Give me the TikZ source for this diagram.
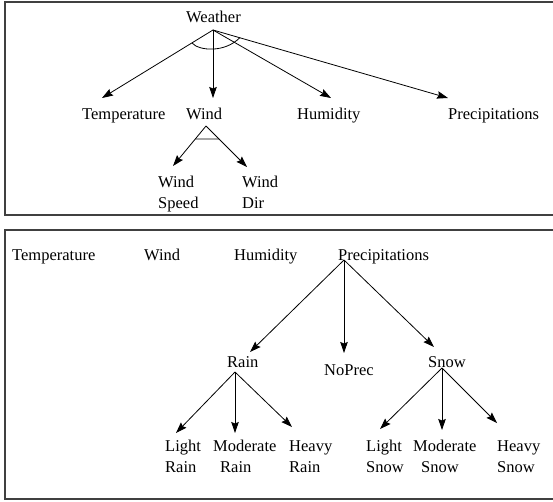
\documentclass[tikz,border=0pt]{standalone}
\usepackage{fontspec}
\setmainfont{Liberation Serif}
\usetikzlibrary{arrows.meta,calc}
\tikzset{
  lbl/.style={inner sep=0pt, font=\fontsize{16.5}{21}\selectfont, anchor=base west},
  lblc/.style={lbl, anchor=base},
  arr/.style={-{Stealth[length=11pt,width=7.5pt,inset=1.5pt]}, line width=0.8pt},
  plain/.style={line width=0.8pt},
  frame/.style={draw=black!75, line width=1.5pt},
}
\begin{document}
\begin{tikzpicture}[x=1pt,y=-1pt]
\clip (0,0) rectangle (553,501);
% frames
\draw[frame] (5,2) rectangle (580,215);
\draw[frame] (5,230) rectangle (580,499);

% ---------- top tree ----------
\node[lblc] (weather) at (213.5,22) {Weather};
\node[lbl] (temp) at (82,119) {Temperature};
\node[lbl] (wind) at (186,119) {Wind};
\node[lbl] (hum) at (297,119) {Humidity};
\node[lbl] (prec) at (448,119) {Precipitations};
\node[lbl] (ws1) at (158,187) {Wind};
\node[lbl] (ws2) at (158,208) {Speed};
\node[lbl] (wd1) at (242,187) {Wind};
\node[lbl] (wd2) at (242,208) {Dir};

\coordinate (oW) at (213,30);
\coordinate (tTemp) at (102,98);
\coordinate (tWind) at (213,98);
\coordinate (tHum) at (331,98);
\coordinate (tPrec) at (448,98);
\draw[arr] (oW) -- (tTemp);
\draw[arr] (oW) -- (tWind);
\draw[arr] (oW) -- (tHum);
\draw[arr] (oW) -- (tPrec);
\draw[plain] (192,43) .. controls (199,51) and (225,53) .. (240,37.5);

\coordinate (oWind) at (206,126);
\coordinate (tWS) at (173,166);
\coordinate (tWD) at (247,167);
\draw[arr] (oWind) -- (tWS);
\draw[arr] (oWind) -- (tWD);
\draw[plain] ($(oWind)!0.325!(tWS)$) -- ($(oWind)!0.317!(tWD)$);

% ---------- bottom tree ----------
\node[lbl] (temp2) at (12,260) {Temperature};
\node[lbl] (wind2) at (144,260) {Wind};
\node[lbl] (hum2) at (234,260) {Humidity};
\node[lbl] (prec2) at (338,260) {Precipitations};
\node[lbl] (rain) at (227,367) {Rain};
\node[lbl] (noprec) at (324,375) {NoPrec};
\node[lbl] (snow) at (428,367) {Snow};

\node[lbl] (lr1) at (165,451) {Light};
\node[lbl] (lr2) at (165,472) {Rain};
\node[lbl] (mr1) at (213,451) {Moderate};
\node[lbl] (mr2) at (220,472) {Rain};
\node[lbl] (hr1) at (289,451) {Heavy};
\node[lbl] (hr2) at (289,472) {Rain};
\node[lbl] (ls1) at (366,451) {Light};
\node[lbl] (ls2) at (366,472) {Snow};
\node[lbl] (ms1) at (413,451) {Moderate};
\node[lbl] (ms2) at (421,472) {Snow};
\node[lbl] (hs1) at (497,451) {Heavy};
\node[lbl] (hs2) at (497,472) {Snow};

\coordinate (oP) at (344,260);
\coordinate (tRain) at (250,352);
\coordinate (tNo) at (344,353);
\coordinate (tSnow) at (434,347);
\draw[arr] (oP) -- (tRain);
\draw[arr] (oP) -- (tNo);
\draw[arr] (oP) -- (tSnow);

\coordinate (oR) at (235,372);
\coordinate (tLR) at (176,433);
\coordinate (tMR) at (235,433);
\coordinate (tHR) at (292,427);
\draw[arr] (oR) -- (tLR);
\draw[arr] (oR) -- (tMR);
\draw[arr] (oR) -- (tHR);

\coordinate (oS) at (442,368);
\coordinate (tLS) at (380,429);
\coordinate (tMS) at (442,430);
\coordinate (tHS) at (497,423);
\draw[arr] (oS) -- (tLS);
\draw[arr] (oS) -- (tMS);
\draw[arr] (oS) -- (tHS);
\end{tikzpicture}
\end{document}
